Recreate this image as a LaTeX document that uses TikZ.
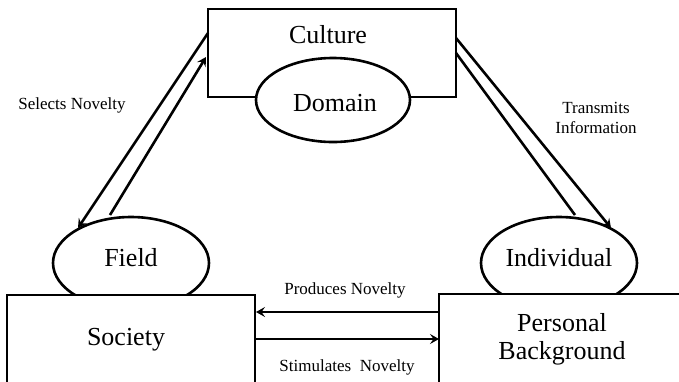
\documentclass[tikz,border=0pt]{standalone}
\usepackage{fontspec}
\setmainfont{Liberation Serif}
\usetikzlibrary{arrows.meta,shapes.geometric}
\begin{document}
\begin{tikzpicture}[x=1pt,y=-1pt,
  box/.style={draw,line width=2.6pt,fill=white,rectangle,inner sep=0pt},
  oval/.style={draw,line width=2.6pt,fill=white,ellipse,inner sep=0pt},
  big/.style={font=\fontsize{26}{28}\selectfont,inner sep=0pt,align=center},
  small/.style={font=\fontsize{17}{20}\selectfont,inner sep=0pt,align=center},
  link/.style={line width=2.6pt,-{Stealth[length=9pt,width=10pt,inset=3.5pt]}},
  plain/.style={line width=2.6pt}]
\useasboundingbox[fill=white] (0,0) rectangle (679,381);
\begin{scope}
\clip (0,0) rectangle (679,381);
% top
\node[box,minimum width=248pt,minimum height=88pt] (culture) at (332,53) {};
\node[oval,minimum width=154pt,minimum height=84pt] (domain) at (333,100) {};
% bottom ellipses first, boxes over them
\node[oval,minimum width=156pt,minimum height=92pt] (field) at (131,263) {};
\node[oval,minimum width=156pt,minimum height=92pt] (individual) at (559,263) {};
\node[box,minimum width=248pt,minimum height=110pt] (society) at (131,350) {};
\node[box,minimum width=252pt,minimum height=110pt] (personal) at (565,349) {};
\end{scope}
% texts
\node[big] (culturetxt) at (328,35) {Culture};
\node[big] (domaintxt) at (335,103) {Domain};
\node[big] (fieldtxt) at (131,258) {Field};
\node[big] (individualtxt) at (559,258) {Individual};
\node[big] (societytxt) at (126,340) {Society};
\node[big] (personaltxt) at (562,339) {Personal\\Background};
\node[small] (selects) at (72,105) {Selects Novelty};
\node[small] (transmits) at (596,118) {Transmits\\Information};
\node[small] (produces) at (345,290) {Produces Novelty};
\node[small] (stimulates) at (347,367) {Stimulates \ Novelty};
% connector end points
\coordinate (a1) at (208,33);
\coordinate (a2) at (78,228);
\coordinate (b1) at (110,215);
\coordinate (b2) at (206,57);
\coordinate (c1) at (456,38);
\coordinate (c2) at (611,228);
\coordinate (d1) at (456,53);
\coordinate (d2) at (575,215);
\coordinate (p1) at (439,312);
\coordinate (p2) at (256,312);
\coordinate (s1) at (255,339);
\coordinate (s2) at (439,339);
\draw[link] (a1) -- (a2);
\draw[link] (b1) -- (b2);
\draw[link] (c1) -- (c2);
\draw[plain] (d1) -- (d2);
\draw[link] (p1) -- (p2);
\draw[link] (s1) -- (s2);
\end{tikzpicture}
\end{document}
